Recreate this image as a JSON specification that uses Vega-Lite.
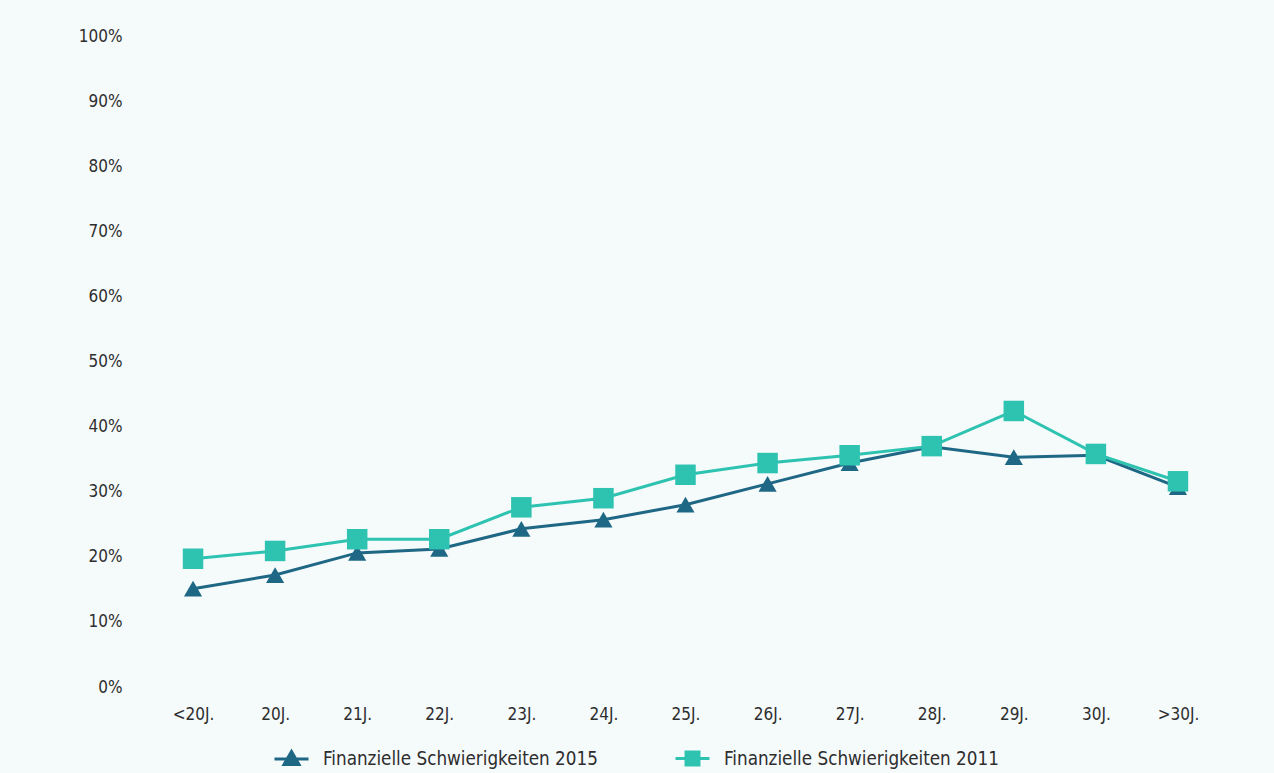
{
  "$schema": "https://vega.github.io/schema/vega-lite/v6.json",
  "autosize": {"type": "none"},
  "width": 1067,
  "height": 651,
  "padding": {"left": 152, "top": 36, "right": 55, "bottom": 86},
  "background": "#f5fafb",
  "config": {
    "view": {"stroke": null},
    "font": "DejaVu Sans Condensed",
    "axis": {"labelFont": "DejaVu Sans Condensed", "labelColor": "#2e2e2e", "labelFontSize": 17}
  },
  "data": {
    "values": [
      {"age": "<20J.", "series": "Finanzielle Schwierigkeiten 2015", "share": 0.151},
      {"age": "20J.", "series": "Finanzielle Schwierigkeiten 2015", "share": 0.172},
      {"age": "21J.", "series": "Finanzielle Schwierigkeiten 2015", "share": 0.206},
      {"age": "22J.", "series": "Finanzielle Schwierigkeiten 2015", "share": 0.212},
      {"age": "23J.", "series": "Finanzielle Schwierigkeiten 2015", "share": 0.243},
      {"age": "24J.", "series": "Finanzielle Schwierigkeiten 2015", "share": 0.257},
      {"age": "25J.", "series": "Finanzielle Schwierigkeiten 2015", "share": 0.280},
      {"age": "26J.", "series": "Finanzielle Schwierigkeiten 2015", "share": 0.312},
      {"age": "27J.", "series": "Finanzielle Schwierigkeiten 2015", "share": 0.344},
      {"age": "28J.", "series": "Finanzielle Schwierigkeiten 2015", "share": 0.369},
      {"age": "29J.", "series": "Finanzielle Schwierigkeiten 2015", "share": 0.353},
      {"age": "30J.", "series": "Finanzielle Schwierigkeiten 2015", "share": 0.356},
      {"age": ">30J.", "series": "Finanzielle Schwierigkeiten 2015", "share": 0.307},
      {"age": "<20J.", "series": "Finanzielle Schwierigkeiten 2011", "share": 0.197},
      {"age": "20J.", "series": "Finanzielle Schwierigkeiten 2011", "share": 0.209},
      {"age": "21J.", "series": "Finanzielle Schwierigkeiten 2011", "share": 0.227},
      {"age": "22J.", "series": "Finanzielle Schwierigkeiten 2011", "share": 0.227},
      {"age": "23J.", "series": "Finanzielle Schwierigkeiten 2011", "share": 0.276},
      {"age": "24J.", "series": "Finanzielle Schwierigkeiten 2011", "share": 0.290},
      {"age": "25J.", "series": "Finanzielle Schwierigkeiten 2011", "share": 0.326},
      {"age": "26J.", "series": "Finanzielle Schwierigkeiten 2011", "share": 0.344},
      {"age": "27J.", "series": "Finanzielle Schwierigkeiten 2011", "share": 0.356},
      {"age": "28J.", "series": "Finanzielle Schwierigkeiten 2011", "share": 0.370},
      {"age": "29J.", "series": "Finanzielle Schwierigkeiten 2011", "share": 0.424},
      {"age": "30J.", "series": "Finanzielle Schwierigkeiten 2011", "share": 0.358},
      {"age": ">30J.", "series": "Finanzielle Schwierigkeiten 2011", "share": 0.316}
    ]
  },
  "encoding": {
    "x": {
      "field": "age",
      "type": "ordinal",
      "sort": null,
      "scale": {"type": "point", "padding": 0.5},
      "axis": {"title": null, "domain": false, "ticks": false, "labelAngle": 0, "labelPadding": 19}
    },
    "y": {
      "field": "share",
      "type": "quantitative",
      "scale": {"domain": [0, 1], "nice": false},
      "axis": {"title": null, "domain": false, "ticks": false, "grid": false, "format": ".0%", "values": [0, 0.1, 0.2, 0.3, 0.4, 0.5, 0.6, 0.7, 0.8, 0.9, 1], "labelPadding": 30}
    },
    "color": {
      "field": "series",
      "type": "nominal",
      "sort": ["Finanzielle Schwierigkeiten 2015", "Finanzielle Schwierigkeiten 2011"],
      "scale": {"domain": ["Finanzielle Schwierigkeiten 2015", "Finanzielle Schwierigkeiten 2011"], "range": ["#1f6885", "#2ec3b0"]},
      "legend": {
        "title": null,
        "orient": "none",
        "direction": "horizontal",
        "legendX": 121,
        "legendY": 704,
        "symbolSize": 1156,
        "symbolStrokeWidth": 3,
        "labelFont": "DejaVu Sans Condensed",
        "labelFontSize": 18.7,
        "labelColor": "#2e2e2e",
        "labelLimit": 500,
        "labelOffset": 13,
        "columnPadding": 71,
        "encode": {
          "symbols": {
            "update": {
              "shape": {"signal": "datum.value === 'Finanzielle Schwierigkeiten 2015' ? 'M-1,0L1,0M0,-0.44L0.44,0.32L-0.44,0.32Z' : 'M-1,0L1,0M-0.38,-0.38L0.38,-0.38L0.38,0.38L-0.38,0.38Z'"},
              "fill": {"signal": "scale('color', datum.value)"},
              "stroke": {"signal": "scale('color', datum.value)"},
              "strokeWidth": {"value": 3},
              "opacity": {"value": 1}
            }
          }
        }
      }
    }
  },
  "layer": [
    {
      "mark": {"type": "line", "strokeWidth": 3}
    },
    {
      "transform": [{"filter": "datum.series === 'Finanzielle Schwierigkeiten 2015'"}],
      "mark": {"type": "point", "filled": true, "opacity": 1, "shape": "triangle-up", "size": 330}
    },
    {
      "transform": [{"filter": "datum.series === 'Finanzielle Schwierigkeiten 2011'"}],
      "mark": {"type": "point", "filled": true, "opacity": 1, "shape": "square", "size": 420}
    }
  ]
}
